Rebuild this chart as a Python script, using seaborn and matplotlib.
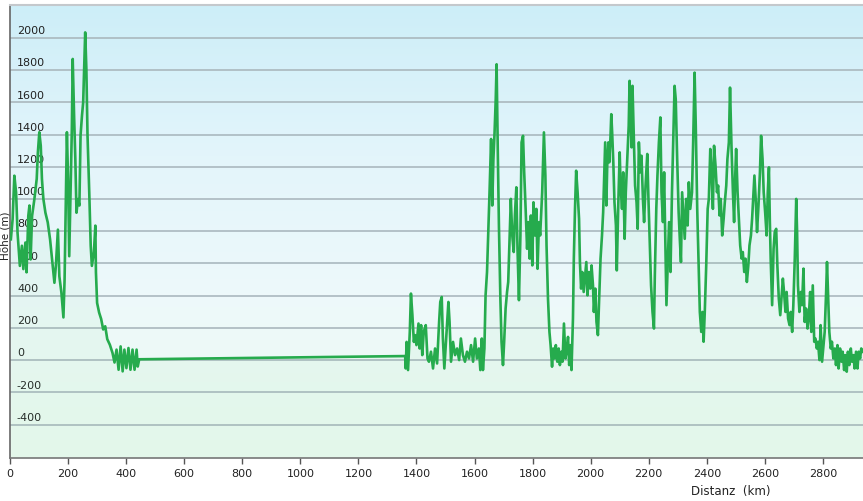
import numpy as np
import pandas as pd
import matplotlib
matplotlib.use("Agg")
import matplotlib.pyplot as plt
from matplotlib.colors import LinearSegmentedColormap
import seaborn as sns

# elevation profile (distance km, height m)
km_start = [3, 9, 15, 21, 26, 34, 41, 46, 53, 57, 63, 67, 71, 76, 84, 92, 96, 101, 106, 110,
            115, 122, 130, 138, 147, 153, 158, 165, 170, 177, 184, 188, 193, 196, 200, 204, 209,
            213, 216, 221, 225, 229, 234, 239, 243, 248, 252, 257, 259, 263, 267, 273, 278, 282,
            289, 294, 296, 300, 307, 314, 321, 328, 335, 344, 353, 360, 367, 374, 381, 388, 394,
            401, 408, 415, 422, 429, 436, 440, 445]
m_start = [750, 875, 1145, 1040, 790, 585, 710, 565, 730, 545, 895, 960, 625, 895, 1000, 1125,
           1290, 1415, 1330, 1125, 1000, 915, 855, 750, 585, 480, 585, 810, 520, 420, 265, 500,
           1100, 1415, 1125, 645, 1080, 1435, 1870, 1500, 1250, 915, 1000, 960, 1395, 1520, 1600,
           1910, 2035, 1810, 1395, 1040, 710, 585, 670, 835, 545, 355, 295, 255, 190, 210, 130,
           95, 45, -15, 65, -60, 85, -70, 65, -50, 75, -60, 65, -60, 65, -40, 5]

km_mid = [1361, 1363, 1366, 1371, 1377, 1381, 1386, 1391, 1395, 1400, 1407, 1411, 1416, 1420,
          1425, 1432, 1438, 1443, 1450, 1457, 1464, 1471, 1478, 1482, 1487, 1491, 1496, 1503,
          1510, 1514, 1519, 1526, 1533, 1540, 1547, 1553, 1560, 1567, 1574, 1581, 1588, 1595,
          1602, 1608, 1615, 1620, 1625, 1629, 1634, 1638, 1643, 1647, 1652, 1657, 1661, 1665,
          1669, 1673, 1676, 1680, 1684, 1689, 1693, 1698, 1702, 1707, 1712, 1716, 1721, 1725,
          1730, 1735, 1739, 1744, 1748, 1753, 1758, 1762, 1767, 1771, 1776, 1781, 1785, 1790,
          1794, 1799, 1803, 1808, 1813, 1817, 1822, 1826]
m_mid = [25, -52, 113, -62, 175, 413, 279, 113, 155, 93, 227, 72, 217, 31, 175, 217, 10, -10,
         52, -52, 72, -21, 237, 361, 392, 134, -52, 155, 361, 237, -10, 113, 31, 72, 0, 134, 31,
         -10, 52, 10, 93, -10, 134, 10, 72, -62, 134, -62, 72, 402, 547, 774, 1063, 1373, 960,
         1249, 1414, 1620, 1837, 1311, 836, 382, 113, -31, 113, 320, 423, 485, 774, 1001, 774,
         671, 898, 1073, 691, 372, 774, 1352, 1393, 1166, 939, 691, 857, 630, 898, 588, 980,
         774, 939, 567, 857, 774]

km_east = [1833, 1839, 1844, 1848, 1853, 1858, 1862, 1867, 1871, 1876, 1880, 1885, 1890, 1894,
           1899, 1903, 1908, 1913, 1917, 1922, 1926, 1931, 1934, 1939, 1942, 1946, 1950, 1955,
           1960, 1963, 1967, 1971, 1976, 1980, 1985, 1989, 1994, 1999, 2003, 2008, 2011, 2016,
           2020, 2025, 2030, 2034, 2039, 2043, 2047, 2050, 2054, 2057, 2061, 2064, 2068, 2071,
           2074, 2078, 2082, 2087, 2090, 2095, 2100, 2103, 2108, 2112, 2117, 2121, 2126, 2131,
           2134, 2137, 2141, 2144, 2149, 2153, 2158, 2162, 2166, 2171, 2175, 2180, 2184, 2189,
           2195, 2199, 2204, 2208, 2213, 2218, 2221, 2226, 2230, 2235, 2240, 2244, 2249, 2253,
           2258, 2261, 2266, 2270, 2275, 2280, 2284, 2289, 2293, 2298, 2303, 2307, 2311, 2315,
           2320, 2324, 2329, 2334, 2338]
m_east = [1042, 1414, 1146, 712, 382, 175, 93, -41, 72, 10, 93, -10, 72, -31, 52, -10, 227, 10,
          52, 144, -31, 93, -62, 258, 630, 939, 1176, 1042, 877, 609, 444, 547, 423, 506, 609,
          402, 547, 444, 588, 464, 299, 444, 237, 155, 423, 630, 774, 918, 1166, 1352, 960, 1207,
          1352, 1228, 1373, 1527, 1414, 1228, 980, 836, 557, 960, 1290, 1084, 939, 1166, 753,
          1042, 1249, 1455, 1734, 1538, 1321, 1703, 1373, 1084, 980, 815, 1352, 1166, 1269,
          1001, 857, 1084, 1280, 1001, 712, 464, 299, 196, 526, 939, 1146, 1352, 1507, 1042,
          857, 1166, 630, 341, 630, 857, 547, 1042, 1331, 1703, 1620, 1249, 918, 753, 609, 1042,
          877, 753, 1001, 836, 1104]

km_end = [2343, 2349, 2353, 2358, 2362, 2367, 2372, 2376, 2381, 2385, 2389, 2393, 2398, 2403,
          2407, 2412, 2416, 2421, 2425, 2430, 2435, 2439, 2444, 2448, 2453, 2458, 2462, 2467,
          2471, 2476, 2480, 2485, 2490, 2494, 2498, 2501, 2506, 2510, 2515, 2520, 2524, 2529,
          2533, 2538, 2543, 2547, 2552, 2556, 2561, 2564, 2569, 2573, 2578, 2583, 2587, 2592,
          2596, 2601, 2606, 2610, 2614, 2617, 2620, 2625, 2630, 2634, 2639, 2643, 2648, 2653,
          2657, 2662, 2666, 2671, 2675, 2680, 2685, 2689, 2694, 2698, 2703, 2708, 2711, 2714,
          2719, 2724, 2728, 2733, 2737, 2742, 2747, 2751, 2756, 2760, 2765, 2770, 2774, 2779,
          2783, 2788, 2792, 2797, 2802, 2806, 2811, 2814, 2818, 2822, 2827, 2831, 2836, 2841,
          2845, 2850, 2854, 2859, 2864, 2868, 2873, 2877, 2882, 2886, 2891, 2896, 2900, 2905,
          2909, 2914, 2919, 2923, 2928, 2932, 2937]
m_end = [939, 1042, 1352, 1785, 1455, 939, 588, 299, 175, 299, 114, 299, 588, 939, 1001, 1311,
         1187, 939, 1331, 1207, 1042, 1084, 898, 1001, 774, 877, 980, 1084, 1249, 1352, 1692,
         1331, 1042, 857, 1146, 1311, 1042, 898, 712, 630, 671, 547, 630, 485, 588, 712, 774,
         877, 1042, 1146, 980, 795, 960, 1166, 1393, 1249, 1042, 918, 774, 1042, 1197, 877, 630,
         341, 691, 795, 815, 588, 382, 279, 382, 506, 423, 299, 423, 258, 217, 299, 175, 341,
         630, 1001, 795, 464, 299, 423, 341, 568, 237, 320, 196, 258, 423, 175, 464, 114, 134,
         72, 114, 0, 217, -10, 93, 175, 423, 609, 382, 175, 72, 114, 10, 72, -31, 93, -52, 72,
         -10, 52, -62, 31, -72, 52, -31, 72, -10, 31, -52, 52, -52, 52, 10, 72, 52]

df = pd.DataFrame({
    "km": km_start + km_mid + km_east + km_end,
    "hoehe": m_start + m_mid + m_east + m_end,
})

x_ticks = list(range(0, 2801, 200))
y_ticks = list(range(-400, 2001, 200))

fig = plt.figure(figsize=(8.63, 5.02), dpi=100)
ax = fig.add_axes([10 / 863, 43 / 502, 853 / 863, 453 / 502])

x_min, x_max = 0, 2938
y_min, y_max = -608, 2205

# background gradient, blue on top to mint at the bottom
bg = LinearSegmentedColormap.from_list("bg", ["#ecfbf1", "#eef9fa", "#e3f5fb", "#cdeef8"])
grad = np.linspace(0, 1, 256).reshape(-1, 1)
ax.imshow(grad, cmap=bg, origin="lower", aspect="auto",
          extent=[x_min, x_max, y_min, y_max], zorder=0)

for t in y_ticks:
    ax.axhline(t, color="#aab8be", lw=1.2, zorder=1)

ax.fill_between(df["km"], df["hoehe"], y_min, color="#6fd08f", alpha=0.07, lw=0, zorder=2)
sns.lineplot(data=df, x="km", y="hoehe", sort=False, estimator=None,
             color="#26ab4d", lw=1.9, ax=ax, zorder=3)

ax.set_xlim(x_min, x_max)
ax.set_ylim(y_min, y_max)
ax.set_xlabel("")
ax.set_ylabel("")

ax.set_xticks(x_ticks)
ax.set_xticklabels([str(t) for t in x_ticks], fontsize=8, color="#222222")
ax.tick_params(axis="x", length=4, width=1, color="#555555", pad=3)

# y labels sit inside the plot, just above their grid line
ax.set_yticks(y_ticks)
ax.set_yticklabels([str(t) for t in y_ticks], fontsize=8, color="#222222")
ax.tick_params(axis="y", length=0, pad=-5)
shift = matplotlib.transforms.ScaledTranslation(0, 2 / 72, fig.dpi_scale_trans)
for lab in ax.get_yticklabels():
    lab.set_horizontalalignment("left")
    lab.set_verticalalignment("bottom")
    lab.set_transform(lab.get_transform() + shift)

ax.spines["left"].set_color("#666666")
ax.spines["left"].set_linewidth(1.2)
ax.spines["bottom"].set_color("#777777")
ax.spines["bottom"].set_linewidth(1.2)
ax.spines["top"].set_color("#c4c8cc")
ax.spines["top"].set_linewidth(1.5)
ax.spines["right"].set_visible(False)

fig.text(5 / 863, 0.53, "Höhe (m)", rotation=90, ha="center", va="center", fontsize=7.5, color="#222222")
fig.text(731 / 863, 1 - 492 / 502, "Distanz  (km)", ha="center", va="center", fontsize=8.5, color="#222222")

fig.savefig("out.png", dpi=100)
